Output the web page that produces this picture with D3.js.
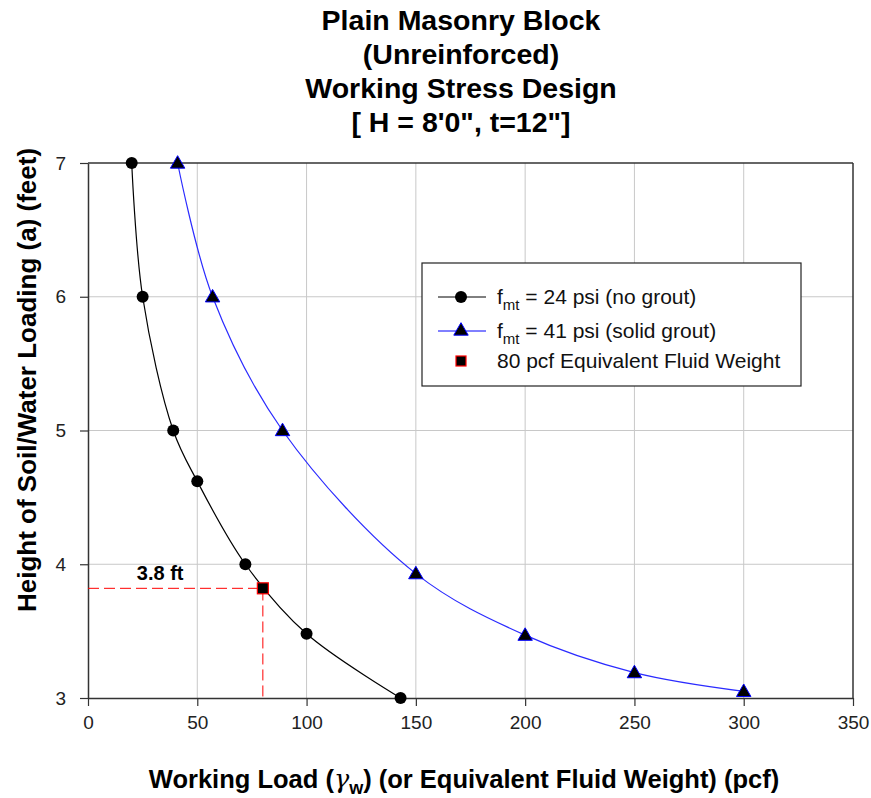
<!DOCTYPE html>
<html>
<head>
<meta charset="utf-8">
<script src="https://cdn.jsdelivr.net/npm/d3@7"></script>
<style>
  body { margin: 0; background: #fff; }
  text { font-family: Arial, "Liberation Sans", sans-serif; }
</style>
</head>
<body>
<div id="chart"></div>
<script>
// chart data
var noGroutLoad = [20, 25, 39, 50, 72, 100, 143];
var noGroutHeight = [7, 6, 5, 4.62, 4.0, 3.48, 3.0];
var solidLoad = [41, 57, 89, 150, 200, 250, 300];
var solidHeight = [7, 6, 5, 3.93, 3.47, 3.19, 3.05];
var designLoad = [80];
var designHeight = [3.82];
var xTicks = [0, 50, 100, 150, 200, 250, 300, 350];
var yTicks = [3, 4, 5, 6, 7];
var titleLines = ["Plain Masonry Block", "(Unreinforced)", "Working Stress Design", "[ H = 8'0\", t=12\"]"];

var svgWidth = 871;
var svgHeight = 798;
var margin = { top: 163, right: 18, bottom: 100, left: 88 };
var width = svgWidth - margin.left - margin.right;
var height = svgHeight - margin.top - margin.bottom;

var svg = d3.select("#chart")
  .append("svg")
  .attr("width", svgWidth)
  .attr("height", svgHeight);

var chartGroup = svg.append("g")
  .attr("transform", `translate(${margin.left}, ${margin.top})`);

var x = d3.scaleLinear().domain([0, 350]).range([0, width]);
var y = d3.scaleLinear().domain([3, 7]).range([height, 0]);

// grid lines
chartGroup.append("g")
  .selectAll("line")
  .data(xTicks.slice(1, -1))
  .enter()
  .append("line")
  .attr("x1", d => x(d)).attr("x2", d => x(d))
  .attr("y1", 0).attr("y2", height)
  .attr("stroke", "#c8c8c8").attr("stroke-width", 1);

chartGroup.append("g")
  .selectAll("line")
  .data(yTicks.slice(1, -1))
  .enter()
  .append("line")
  .attr("x1", 0).attr("x2", width)
  .attr("y1", d => y(d)).attr("y2", d => y(d))
  .attr("stroke", "#c8c8c8").attr("stroke-width", 1);

// axes
var bottomAxis = d3.axisBottom(x).tickValues(xTicks).tickFormat(d3.format("d"))
  .tickSizeInner(8).tickSizeOuter(0).tickPadding(10);
var leftAxis = d3.axisLeft(y).tickValues(yTicks).tickFormat(d3.format("d"))
  .tickSizeInner(8).tickSizeOuter(0).tickPadding(14);

var xAxis = chartGroup.append("g")
  .attr("transform", `translate(0, ${height})`)
  .call(bottomAxis);

var yAxis = chartGroup.append("g")
  .call(leftAxis);

[xAxis, yAxis].forEach(function(ax) {
  ax.select(".domain").attr("stroke", "#333").attr("stroke-width", 1.5);
  ax.selectAll(".tick line").attr("stroke", "#333").attr("stroke-width", 1.2);
  ax.selectAll(".tick text")
    .attr("font-family", "Arial, 'Liberation Sans', sans-serif")
    .attr("font-size", "19px")
    .attr("fill", "#222");
});

// top and right frame
chartGroup.append("line")
  .attr("x1", 0).attr("x2", width).attr("y1", 0).attr("y2", 0)
  .attr("stroke", "#333").attr("stroke-width", 1.5);
chartGroup.append("line")
  .attr("x1", width).attr("x2", width).attr("y1", 0).attr("y2", height)
  .attr("stroke", "#333").attr("stroke-width", 1.5);

// red dashed guides to the 80 pcf point
chartGroup.append("path")
  .attr("d", `M${x(0)},${y(designHeight[0])}H${x(designLoad[0])}V${y(3)}`)
  .attr("fill", "none")
  .attr("stroke", "#ff0000")
  .attr("stroke-width", 1)
  .attr("stroke-dasharray", "11,5");

chartGroup.append("text")
  .attr("x", x(33))
  .attr("y", y(3.88))
  .attr("text-anchor", "middle")
  .attr("font-size", "20px")
  .attr("font-weight", "bold")
  .text("3.8 ft");

// curves
var line = d3.line()
  .x(d => x(d[0]))
  .y(d => y(d[1]))
  .curve(d3.curveCatmullRom.alpha(0.5));

var noGrout = noGroutLoad.map((d, i) => [d, noGroutHeight[i]]);
var solid = solidLoad.map((d, i) => [d, solidHeight[i]]);

chartGroup.append("path")
  .datum(noGrout)
  .attr("d", line)
  .attr("fill", "none")
  .attr("stroke", "#000")
  .attr("stroke-width", 1.2);

chartGroup.append("path")
  .datum(solid)
  .attr("d", line)
  .attr("fill", "none")
  .attr("stroke", "#2b2bff")
  .attr("stroke-width", 1.2);

var triangle = d3.symbol().type(d3.symbolTriangle).size(90);

chartGroup.selectAll(".dot")
  .data(noGrout)
  .enter()
  .append("circle")
  .attr("class", "dot")
  .attr("cx", d => x(d[0]))
  .attr("cy", d => y(d[1]))
  .attr("r", 6)
  .attr("fill", "#000");

chartGroup.selectAll(".tri")
  .data(solid)
  .enter()
  .append("path")
  .attr("class", "tri")
  .attr("d", triangle)
  .attr("transform", d => `translate(${x(d[0])}, ${y(d[1]) + 1})`)
  .attr("fill", "#000")
  .attr("stroke", "#0000ff")
  .attr("stroke-width", 1);

chartGroup.selectAll(".sq")
  .data(designLoad.map((d, i) => [d, designHeight[i]]))
  .enter()
  .append("rect")
  .attr("class", "sq")
  .attr("x", d => x(d[0]) - 5.5)
  .attr("y", d => y(d[1]) - 5.5)
  .attr("width", 11)
  .attr("height", 11)
  .attr("fill", "#000")
  .attr("stroke", "#ff0000")
  .attr("stroke-width", 1.2);

// legend
var legend = svg.append("g").attr("transform", "translate(422, 263)");
legend.append("rect")
  .attr("width", 379).attr("height", 123)
  .attr("fill", "#fff").attr("stroke", "#222").attr("stroke-width", 1.2);

var rowY = [34, 68, 98];
legend.append("line").attr("x1", 16).attr("x2", 64).attr("y1", rowY[0]).attr("y2", rowY[0]).attr("stroke", "#000");
legend.append("circle").attr("cx", 39).attr("cy", rowY[0]).attr("r", 6).attr("fill", "#000");
legend.append("line").attr("x1", 16).attr("x2", 64).attr("y1", rowY[1]).attr("y2", rowY[1]).attr("stroke", "#0000ff");
legend.append("path").attr("d", triangle).attr("transform", `translate(39, ${rowY[1]})`)
  .attr("fill", "#000").attr("stroke", "#0000ff");
legend.append("rect").attr("x", 34).attr("y", rowY[2] - 5).attr("width", 10).attr("height", 10)
  .attr("fill", "#000").attr("stroke", "#ff0000").attr("stroke-width", 1.2);

var legendLabels = [
  { main: "f", sub: "mt", rest: " = 24 psi (no grout)" },
  { main: "f", sub: "mt", rest: " = 41 psi (solid grout)" },
  { main: "", sub: "", rest: "80 pcf Equivalent Fluid Weight" }
];
legendLabels.forEach(function(d, i) {
  var t = legend.append("text")
    .attr("x", 75)
    .attr("y", rowY[i] + 7)
    .attr("font-size", "21px")
    .attr("fill", "#111");
  if (d.main) {
    t.append("tspan").text(d.main);
    t.append("tspan").attr("font-size", "15px").attr("dy", 6).text(d.sub);
    t.append("tspan").attr("dy", -6).text(d.rest);
  } else {
    t.append("tspan").text(d.rest);
  }
});

// title
svg.append("g")
  .selectAll("text")
  .data(titleLines)
  .enter()
  .append("text")
  .attr("x", 461)
  .attr("y", (d, i) => 30 + i * 34)
  .attr("text-anchor", "middle")
  .attr("font-size", "28.5px")
  .attr("font-weight", "bold")
  .text(d => d);

// y axis label
svg.append("text")
  .attr("transform", "translate(36, 380) rotate(-90)")
  .attr("text-anchor", "middle")
  .attr("font-size", "26px")
  .attr("font-weight", "bold")
  .text("Height of Soil/Water Loading (a) (feet)");

// x axis label
var xLabel = svg.append("text")
  .attr("x", 464)
  .attr("y", 788)
  .attr("text-anchor", "middle")
  .attr("font-size", "25.5px")
  .attr("font-weight", "bold");
xLabel.append("tspan").text("Working Load (");
xLabel.append("tspan")
  .attr("font-family", "'DejaVu Serif', serif")
  .attr("font-style", "italic")
  .attr("font-weight", "normal")
  .text("\u03b3");
xLabel.append("tspan").attr("font-size", "18px").attr("dy", 6).text("w");
xLabel.append("tspan").attr("dy", -6).text(") (or Equivalent Fluid Weight) (pcf)");
</script>
</body>
</html>
